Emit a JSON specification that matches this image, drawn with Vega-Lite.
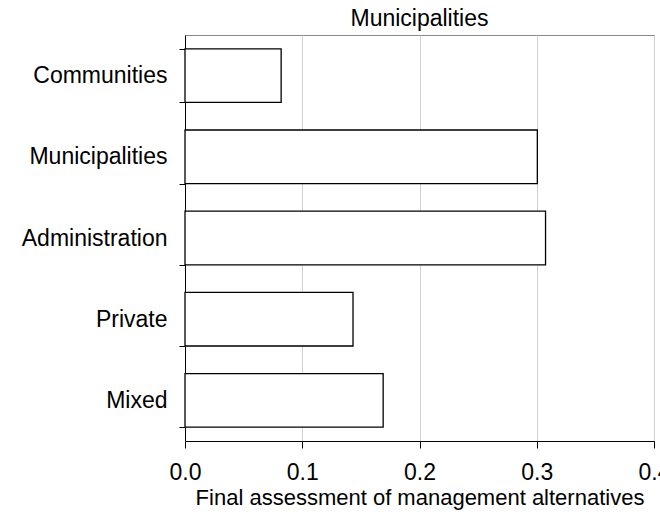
{
  "$schema": "https://vega.github.io/schema/vega-lite/v6.json",
  "width": 469,
  "height": 406,
  "padding": {"left": 21, "top": 8, "right": 0, "bottom": 5},
  "background": "white",
  "title": {"text": "Municipalities", "fontSize": 23, "fontWeight": "normal", "font": "Liberation Sans", "color": "black", "offset": -7},
  "data": {
    "values": [
      {"alternative": "Communities", "value": 0.082},
      {"alternative": "Municipalities", "value": 0.3005},
      {"alternative": "Administration", "value": 0.3075},
      {"alternative": "Private", "value": 0.1433},
      {"alternative": "Mixed", "value": 0.169}
    ]
  },
  "mark": {"type": "bar", "fill": "white", "stroke": "black", "strokeWidth": 1.3},
  "encoding": {
    "y": {
      "field": "alternative",
      "type": "nominal",
      "sort": ["Communities", "Municipalities", "Administration", "Private", "Mixed"],
      "scale": {"paddingInner": 0.34, "paddingOuter": 0.17},
      "axis": {
        "title": null,
        "tickBand": "extent",
        "labelFontSize": 23,
        "labelFont": "Liberation Sans",
        "labelColor": "black",
        "labelPadding": 12,
        "tickSize": 6,
        "tickColor": "black",
        "domainColor": "black",
        "grid": false
      }
    },
    "x": {
      "field": "value",
      "type": "quantitative",
      "scale": {"domain": [0, 0.4], "nice": false},
      "axis": {
        "title": "Final assessment of management alternatives",
        "titleFontSize": 22,
        "titleFont": "Liberation Sans",
        "titleFontWeight": "normal",
        "titleColor": "black",
        "titlePadding": 3,
        "values": [0, 0.1, 0.2, 0.3, 0.4],
        "format": ".1f",
        "labelFontSize": 23,
        "labelFont": "Liberation Sans",
        "labelColor": "black",
        "labelPadding": 13,
        "labelFlush": false,
        "labelOverlap": false,
        "tickSize": 7,
        "tickColor": "black",
        "domainColor": "black",
        "grid": true,
        "gridColor": "#d0d0d0"
      }
    }
  },
  "config": {
    "view": {"stroke": "#888888"}
  }
}
